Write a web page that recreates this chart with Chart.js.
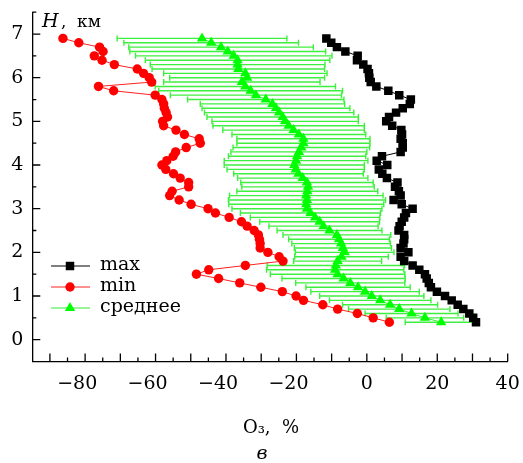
<!DOCTYPE html>
<html>
<head>
<meta charset="utf-8">
<script src="https://cdn.jsdelivr.net/npm/chart.js@4.4.0/dist/chart.umd.min.js"></script>
<style>
  html, body { margin: 0; padding: 0; background: #fff; }
</style>
</head>
<body>
<canvas id="ozoneChart" width="523" height="463"></canvas>
<script>
// heights, km (top to bottom)
const heights = [
  6.9, 6.8, 6.7, 6.6, 6.5, 6.4, 6.3, 6.2, 6.1, 6.0,
  5.9, 5.8, 5.7, 5.6, 5.5, 5.4, 5.3, 5.2, 5.1, 5.0,
  4.9, 4.8, 4.7, 4.6, 4.5, 4.4, 4.3, 4.2, 4.1, 4.0,
  3.9, 3.8, 3.7, 3.6, 3.5, 3.4, 3.3, 3.2, 3.1, 3.0,
  2.9, 2.8, 2.7, 2.6, 2.5, 2.4, 2.3, 2.2, 2.1, 2.0,
  1.9, 1.8, 1.7, 1.6, 1.5, 1.4, 1.3, 1.2, 1.1, 1.0,
  0.9, 0.8, 0.7, 0.6, 0.5, 0.4
];

// O3 deviation, %
const maxVals = [
  -11.5, -10.1, -8.5, -6.1, -2.6, -2.8, -1.0, 0.2, 0.6, 0.7,
  1.1, 2.7, 6.1, 9.2, 12.5, 12.2, 10.2, 8.3, 6.3, 5.5,
  7.2, 9.8, 10.0, 9.6, 10.2, 10.2, 9.6, 4.3, 2.8, 5.8,
  3.4, 4.4, 5.7, 8.7, 8.0, 9.1, 9.6, 7.6, 9.9, 13.0,
  11.1, 10.6, 9.9, 9.3, 9.0, 10.6, 10.6, 10.4, 9.6, 11.8,
  9.6, 10.6, 13.0, 14.9, 16.5, 17.0, 17.6, 18.2, 19.9, 22.2,
  24.1, 25.8, 27.4, 29.1, 30.2, 31.0
];

const minVals = [
  -86.3, -81.8, -75.9, -74.9, -77.4, -75.2, -71.7, -65.2, -63.4, -61.8,
  -61.1, -76.2, -71.9, -60.1, -58.2, -57.7, -57.5, -57.0, -56.6, -58.0,
  -57.7, -54.2, -51.8, -47.6, -47.3, -51.3, -54.3, -55.0, -56.8, -58.2,
  -57.1, -54.9, -53.0, -50.6, -50.6, -55.3, -56.0, -53.3, -49.9, -45.1,
  -43.0, -39.1, -35.6, -34.0, -32.0, -30.8, -30.5, -30.3, -30.3, -28.1,
  -24.9, -23.8, -34.5, -44.9, -48.4, -42.1, -36.1, -30.1, -24.0, -20.1,
  -18.0, -12.5, -8.3, -2.7, 1.8, 6.4
];

const avgVals = [
  -46.8, -44.2, -41.4, -39.5, -37.8, -36.7, -36.7, -36.5, -34.5, -34.0,
  -35.5, -34.5, -33.0, -31.5, -28.7, -26.8, -25.8, -24.9, -23.9, -23.2,
  -22.2, -20.8, -19.3, -18.0, -18.0, -18.6, -19.3, -19.8, -20.1, -20.6,
  -20.2, -19.4, -18.2, -17.0, -16.7, -16.9, -17.2, -17.0, -17.2, -17.0,
  -16.0, -14.7, -13.4, -12.3, -10.6, -8.5, -7.9, -7.3, -6.8, -6.3,
  -7.2, -8.3, -8.8, -9.0, -8.3, -6.6, -4.7, -2.5, -0.5, 1.4,
  3.8, 6.6, 9.2, 12.7, 16.5, 21.1
];

// half-width of the spread around the mean
const errVals = [
  24.1, 24.8, 26.2, 27.8, 27.9, 26.2, 24.8, 24.5, 23.2, 22.0,
  22.2, 25.6, 26.1, 24.3, 22.2, 20.5, 21.0, 21.2, 21.5, 20.8,
  21.5, 20.1, 19.0, 18.9, 18.9, 19.4, 19.3, 19.5, 20.4, 19.9,
  19.5, 18.4, 18.5, 18.8, 18.8, 20.0, 21.8, 22.3, 22.0, 21.3,
  19.9, 18.4, 17.0, 15.5, 14.9, 15.3, 14.3, 14.0, 13.8, 14.0,
  13.3, 12.5, 19.5, 19.5, 19.1, 17.5, 15.5, 14.8, 15.4, 14.8,
  14.4, 13.5, 14.4, 13.2, 11.0, 10.2
];

const xTicks = [-80, -60, -40, -20, 0, 20, 40];
const yTicks = [0, 1, 2, 3, 4, 5, 6, 7];
const seriesNames = ['max', 'min', 'среднее'];

const serif = '"DejaVu Serif", serif';
Chart.defaults.font.family = serif;
Chart.defaults.font.size = 19;
Chart.defaults.color = '#000';

const pairs = vals => vals.map((v, i) => ({ x: v, y: heights[i] }));

// horizontal spread bars with caps, under the markers
const errorBars = {
  id: 'errorBars',
  beforeDatasetsDraw(chart) {
    const { ctx, scales: { x, y } } = chart;
    ctx.save();
    ctx.strokeStyle = '#3ef03e';
    ctx.lineWidth = 1.4;
    avgVals.forEach((v, i) => {
      const py = y.getPixelForValue(heights[i]);
      const x0 = x.getPixelForValue(v - errVals[i]);
      const x1 = x.getPixelForValue(v + errVals[i]);
      ctx.beginPath();
      ctx.moveTo(x0, py); ctx.lineTo(x1, py);
      ctx.moveTo(x0, py - 3); ctx.lineTo(x0, py + 3);
      ctx.moveTo(x1, py - 3); ctx.lineTo(x1, py + 3);
      ctx.stroke();
    });
    ctx.restore();
  }
};

// inward tick marks, legend and axis captions
const frame = {
  id: 'frame',
  afterDraw(chart) {
    const { ctx, scales: { x, y }, chartArea: a } = chart;
    ctx.save();
    ctx.strokeStyle = '#000';
    ctx.lineWidth = 1.3;
    ctx.beginPath();
    for (let v = -90; v <= 40; v += 5) {
      const px = x.getPixelForValue(v);
      const len = v % 10 === 0 ? 8 : 4;
      ctx.moveTo(px, a.bottom); ctx.lineTo(px, a.bottom - len);
    }
    for (let v = 0; v <= 7.5; v += 0.5) {
      const py = y.getPixelForValue(v);
      const len = v % 1 === 0 ? 8 : 4;
      ctx.moveTo(a.left, py); ctx.lineTo(a.left + len, py);
    }
    ctx.stroke();

    // legend: line segment with marker, then name
    const rows = [266, 287, 308];
    chart.data.datasets.forEach((ds, i) => {
      const ly = rows[i];
      ctx.strokeStyle = ds.borderColor;
      ctx.lineWidth = 1;
      ctx.beginPath();
      ctx.moveTo(51, ly); ctx.lineTo(90, ly);
      ctx.stroke();
      ctx.fillStyle = ds.pointBackgroundColor;
      Chart.helpers.drawPoint(ctx, {
        pointStyle: ds.pointStyle, radius: ds.pointRadius, rotation: 0, borderWidth: 0
      }, 70, ly);
      ctx.fillStyle = '#000';
      ctx.font = '19px ' + serif;
      ctx.textBaseline = 'middle';
      ctx.textAlign = 'left';
      ctx.fillText(ds.label, 100, ly - 1);
    });

    // axis captions
    ctx.fillStyle = '#000';
    ctx.textBaseline = 'alphabetic';
    ctx.textAlign = 'left';
    ctx.font = 'italic 19px ' + serif;
    ctx.fillText('H', 42, 27);
    ctx.font = '17px ' + serif;
    ctx.fillText(',', 61, 27);
    ctx.fillText('км', 77, 27);

    ctx.textAlign = 'center';
    ctx.font = '18px ' + serif;
    ctx.fillText('O₃,  %', (a.left + a.right) / 2 + 1, 433);
    ctx.font = 'italic 19px ' + serif;
    ctx.fillText('в', (a.left + a.right) / 2 - 8, 459);
    ctx.restore();
  }
};

new Chart(document.getElementById('ozoneChart'), {
  type: 'scatter',
  data: {
    datasets: [
      {
        label: seriesNames[0],
        data: pairs(maxVals),
        showLine: true,
        borderColor: '#000',
        borderWidth: 1,
        pointStyle: 'rect',
        pointRadius: 6,
        pointBackgroundColor: '#000',
        pointBorderWidth: 0
      },
      {
        label: seriesNames[1],
        data: pairs(minVals),
        showLine: true,
        borderColor: '#ff2020',
        borderWidth: 1,
        pointStyle: 'circle',
        pointRadius: 4.7,
        pointBackgroundColor: '#ff0000',
        pointBorderWidth: 0
      },
      {
        label: seriesNames[2],
        data: pairs(avgVals),
        showLine: true,
        borderColor: '#33ee33',
        borderWidth: 1,
        pointStyle: 'triangle',
        pointRadius: 6,
        pointBackgroundColor: '#00ff00',
        pointBorderWidth: 0
      }
    ]
  },
  options: {
    responsive: false,
    animation: false,
    layout: { padding: { top: 12.2, right: 15.3, bottom: 61.5, left: 0 } },
    plugins: { legend: { display: false }, tooltip: { enabled: false } },
    scales: {
      x: {
        type: 'linear',
        min: -95,
        max: 40,
        afterBuildTicks: axis => { axis.ticks = xTicks.map(v => ({ value: v })); },
        afterFit: scale => {
          scale.height = 40;
          scale.paddingLeft = 0;
          scale.paddingRight = 0;
        },
        grid: { display: false, drawTicks: false },
        border: { display: true, color: '#000', width: 1.3 },
        ticks: {
          padding: 11,
          maxRotation: 0,
          callback: v => v < 0 ? '\u2212' + Math.abs(v) + '\u2007\u2009' : String(v)
        }
      },
      y: {
        type: 'linear',
        min: -0.5,
        max: 7.5,
        afterBuildTicks: axis => { axis.ticks = yTicks.map(v => ({ value: v })); },
        afterFit: scale => {
          scale.width = 32.3;
          scale.paddingTop = 0;
          scale.paddingBottom = 0;
        },
        grid: { display: false, drawTicks: false },
        border: { display: true, color: '#000', width: 1.3 },
        ticks: { padding: 9 }
      }
    }
  },
  plugins: [errorBars, frame]
});
</script>
</body>
</html>
